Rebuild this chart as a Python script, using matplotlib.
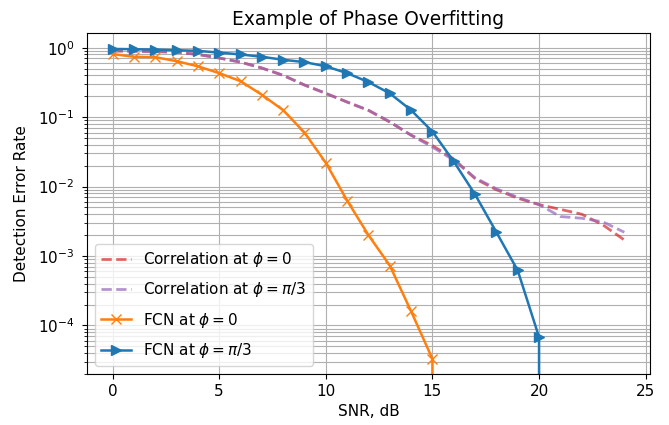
import matplotlib
matplotlib.use("Agg")
import matplotlib.pyplot as plt
import numpy as np

snr = np.arange(0, 25)

# correlation receivers (dashed)
corr_0 = [0.90, 0.89, 0.88, 0.86, 0.80, 0.71, 0.62, 0.51, 0.40, 0.29,
          0.22, 0.165, 0.125, 0.085, 0.055, 0.039, 0.025, 0.013, 0.0090, 0.0068,
          0.0055, 0.0047, 0.0040, 0.0028, 0.0017]
corr_pi3 = [0.90, 0.89, 0.88, 0.86, 0.80, 0.71, 0.62, 0.51, 0.40, 0.29,
            0.22, 0.165, 0.126, 0.086, 0.055, 0.037, 0.024, 0.0134, 0.0093, 0.0070,
            0.0055, 0.0037, 0.0035, 0.0031, 0.0022]

# FCN detectors (zeros past the last point fall off the log axis)
fcn_0 = [0.81, 0.74, 0.73, 0.64, 0.54, 0.43, 0.33, 0.21, 0.126, 0.06,
         0.022, 0.0063, 0.002, 7.3e-4, 1.6e-4, 3.3e-5, 0, 0, 0, 0,
         0, 0, 0, 0, 0]
fcn_pi3 = [0.96, 0.95, 0.94, 0.92, 0.90, 0.85, 0.80, 0.74, 0.67, 0.62,
           0.54, 0.43, 0.32, 0.22, 0.126, 0.062, 0.023, 0.0077, 0.0022, 6.2e-4,
           6.8e-5, 0, 0, 0, 0]

plt.rcParams['font.size'] = 11

fig = plt.figure(figsize=(6.69, 4.25), dpi=100)
ax = fig.add_axes([0.130, 0.12, 0.8415, 0.802])

ax.semilogy(snr, corr_0, '--', color='C3', alpha=0.7, lw=2, label=r'Correlation at $\phi = 0$')
ax.semilogy(snr, corr_pi3, '--', color='C4', alpha=0.7, lw=2, label=r'Correlation at $\phi = \pi/3$')
ax.semilogy(snr, fcn_0, '-x', color='C1', lw=1.8, ms=7, label=r'FCN at $\phi = 0$')
ax.semilogy(snr, fcn_pi3, '->', color='C0', lw=1.8, ms=7, label=r'FCN at $\phi = \pi/3$')

ax.set_xlim(-1.2, 25.2)
ax.set_ylim(2.0e-5, 1.62)
ax.grid(True, which='both')
ax.tick_params(axis='y', which='major', pad=5.5)
ax.set_title('Example of Phase Overfitting', fontsize=13.4)
ax.set_xlabel('SNR, dB')
ax.set_ylabel('Detection Error Rate', labelpad=6.5)
ax.legend(loc='lower left', labelspacing=0.75)

fig.savefig('out.png', dpi=100)
